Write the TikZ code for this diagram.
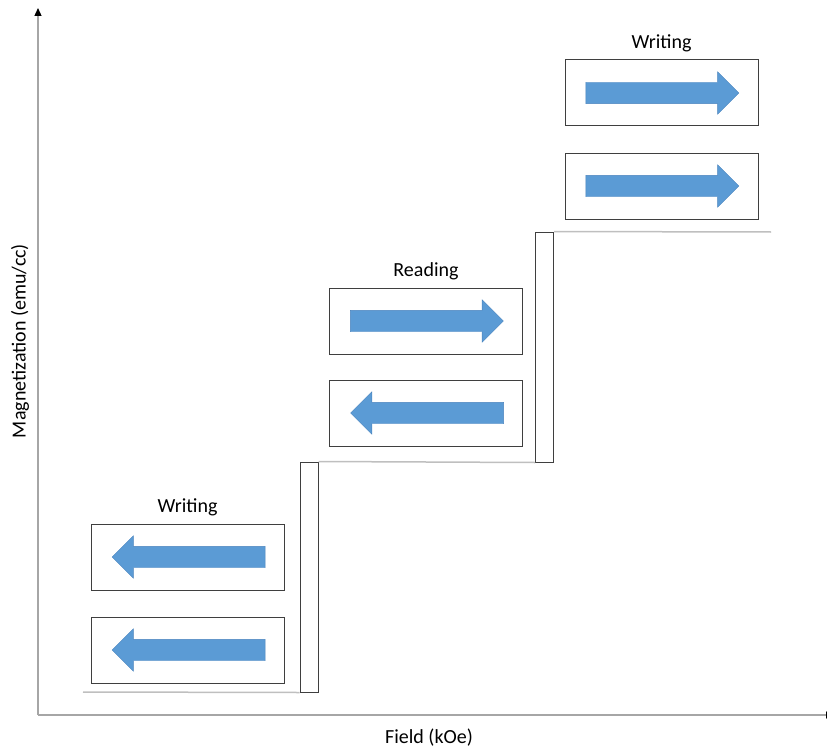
\documentclass[tikz,border=0pt]{standalone}
\usepackage{fontspec}
\setmainfont{Carlito}
\usetikzlibrary{arrows.meta, shapes.arrows, positioning}

\definecolor{arrowblue}{HTML}{5B9BD5}
\definecolor{arrowedge}{HTML}{4A84BD}
\definecolor{axisgray}{HTML}{A6A6A6}
\definecolor{stepgray}{HTML}{BFBFBF}
\definecolor{boxgray}{HTML}{3F3F3F}

\begin{document}
\begin{tikzpicture}[
		x=1pt, y=-1pt,
		font=\fontsize{20}{24}\selectfont,
		bit/.style={rectangle, draw=boxgray, line width=1pt, inner sep=0pt, minimum width=193pt, minimum height=66pt},
		rail/.style={rectangle, draw=boxgray, line width=1pt, inner sep=0pt, minimum width=18pt, minimum height=230pt},
		spin/.style={single arrow, fill=arrowblue, draw=arrowedge, line width=0.4pt, inner xsep=0pt, inner ysep=10.5pt,
			minimum height=153pt, minimum width=42pt, single arrow head extend=10.5pt, single arrow tip angle=90, xshift=-4.5pt},
		spinleft/.style={spin, shape border rotate=180, xshift=11pt},
		axis/.style={draw=axisgray, line width=1.3pt, -{Triangle[length=8pt, width=7pt, black]}},
		stepline/.style={draw=stepgray, line width=1.5pt},
		every label/.style={label distance=4pt}
		]
		\clip (0,0) rectangle (827,749);
		% axes
		\coordinate (origin) at (38,715);
		\coordinate (ytop) at (38,8);
		\coordinate (xend) at (834,715);
		\draw [axis] (origin) -- (ytop);
		\draw [axis] (origin) -- (xend);
		\node (xlabel) at (429,738) {Field (kOe)};
		\node [rotate=90] (ylabel) at (20,341) {Magnetization (emu/cc)};
		
		% steps
		\node [rail] (rail1) at (309,577) {};
		\node [rail] (rail2) at (544.5,347) {};
		\coordinate (start) at (83,692);
		\coordinate (end) at (771,232);
		\draw [stepline] (start) -- (rail1.south west);
		\draw [stepline] (rail1.north east) -- (rail2.south west);
		\draw [stepline] (rail2.north east) -- (end);
		
		% writing, left
		\node [bit, label=above:Writing] (wl1) at (187.5,557) {};
		\node [bit] (wl2) [below=26pt of wl1] {};
		\node [spinleft] (wl1 arrow) at (wl1) {};
		\node [spinleft] (wl2 arrow) at (wl2) {};
		
		% reading
		\node [bit, label=above:Reading] (rd1) at (426,321) {};
		\node [bit] (rd2) [below=25pt of rd1] {};
		\node [spin] (rd1 arrow) at (rd1) {};
		\node [spinleft] (rd2 arrow) at (rd2) {};
		
		% writing, right
		\node [bit, label=above:Writing] (wr1) at (661.5,93) {};
		\node [bit] (wr2) [below=26pt of wr1] {};
		\node [spin] (wr1 arrow) at (wr1) {};
		\node [spin] (wr2 arrow) at (wr2) {};
	\end{tikzpicture}
\end{document}
